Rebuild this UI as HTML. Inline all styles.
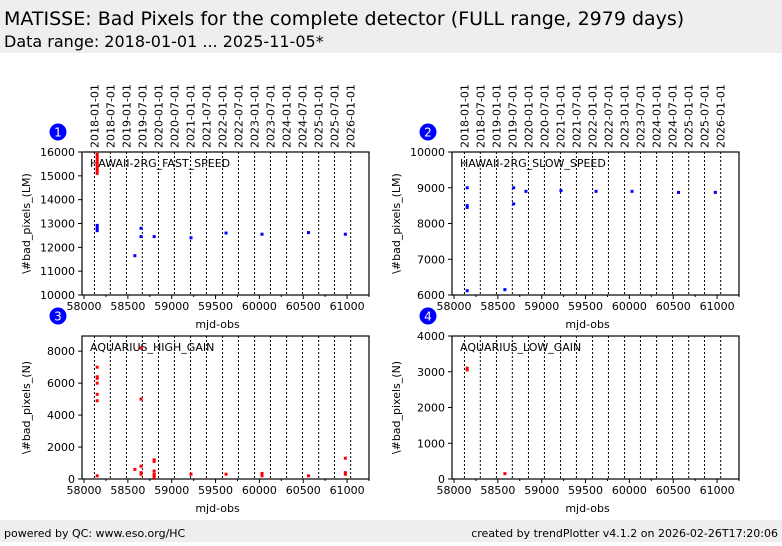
<!DOCTYPE html>
<html><head><meta charset="utf-8"><style>
body{margin:0;background:#fff;font-family:"DejaVu Sans","Liberation Sans",sans-serif}
svg text{font-family:"DejaVu Sans","Liberation Sans",sans-serif}
</style></head><body>
<svg id="c" width="782" height="542" xmlns="http://www.w3.org/2000/svg">
<rect x="0" y="0" width="782" height="53" fill="#eeeeee"/>
<text x="4" y="25" font-size="19" fill="#000">MATISSE: Bad Pixels for the complete detector (FULL range, 2979 days)</text>
<text x="4" y="47" font-size="16" fill="#000">Data range: 2018-01-01 ... 2025-11-05*</text>
<rect x="0" y="520" width="782" height="22" fill="#eeeeee"/>
<text x="4" y="537" font-size="11">powered by QC: www.eso.org/HC</text>
<text x="778" y="537" font-size="11" text-anchor="end">created by trendPlotter v4.1.2 on 2026-02-26T17:20:06</text>
</svg>
<script>
const dateLabels=["2018-01-01","2018-07-01","2019-01-01","2019-07-01","2020-01-01","2020-07-01","2021-01-01","2021-07-01","2022-01-01","2022-07-01","2023-01-01","2023-07-01","2024-01-01","2024-07-01","2025-01-01","2025-07-01","2026-01-01"];
const dateMjd=[58119,58300,58484,58665,58849,59031,59215,59396,59580,59761,59945,60126,60310,60492,60676,60857,61041];
const xTicks=[58000,58500,59000,59500,60000,60500,61000];
const p1Name="HAWAII-2RG_FAST_SPEED";
const p1RedX=[58150,58150,58150,58150,58150,58150,58150,58150,58150];
const p1RedY=[15100,15200,15300,15400,15500,15600,15700,15800,15900];
const p1BlueX=[58150,58150,58150,58150,58580,58650,58650,58800,59220,59620,60030,60560,60980];
const p1BlueY=[12700,12780,12850,12920,11650,12800,12450,12450,12400,12600,12550,12620,12550];
const p1Ticks=[10000,11000,12000,13000,14000,15000,16000];
const p2Name="HAWAII-2RG_SLOW_SPEED";
const p2BlueX=[58150,58150,58150,58150,58580,58680,58680,58820,59220,59620,60030,60560,60980];
const p2BlueY=[9000,8500,8450,6120,6150,9000,8550,8900,8920,8900,8900,8870,8870];
const p2Ticks=[6000,7000,8000,9000,10000];
const p3Name="AQUARIUS_HIGH_GAIN";
const p3RedX=[58150,58150,58150,58150,58150,58150,58150,58580,58650,58650,58650,58650,58650,58800,58800,58800,58800,58800,58800,59220,59620,60030,60030,60560,60980,60980,60980];
const p3RedY=[7000,6400,6300,6000,5300,4900,200,600,8200,5000,800,400,300,1200,1100,500,300,200,100,300,300,350,200,200,1300,400,300];
const p3Ticks=[0,2000,4000,6000,8000];
const p4Name="AQUARIUS_LOW_GAIN";
const p4RedX=[58150,58150,58580];
const p4RedY=[3100,3050,150];
const p4Ticks=[0,1000,2000,3000,4000];

const NS="http://www.w3.org/2000/svg";
const svg=document.getElementById('c');
function mk(t,a,p){const e=document.createElementNS(NS,t);for(const k in a)e.setAttribute(k,a[k]);(p||svg).appendChild(e);return e;}
function panel(num,x0,y0,ymin,ymax,ticks,name,series,showDates){
  const w=287,h=143,xmin=57977,xmax=61250;
  const g=mk('g',{});
  
  
  const X=v=>x0+(v-xmin)/(xmax-xmin)*w;
  const Y=v=>y0+h-(v-ymin)/(ymax-ymin)*h;
  dateMjd.forEach((m,i)=>{
    const gl=mk('line',{x1:X(m),x2:X(m),y1:y0,y2:y0+h,stroke:'#000','stroke-width':1,'stroke-dasharray':'2,2'},g);
    
    
    if(showDates){
      const t=mk('text',{x:X(m)+4,y:y0-4,'font-size':11,'font-family':'DejaVu Sans Mono,Liberation Mono,monospace',transform:`rotate(-90 ${X(m)+4} ${y0-4})`},g);
      t.textContent=dateLabels[i];
      
      
    }
  });
  const fr=mk('rect',{x:x0,y:y0,width:w,height:h,fill:'none',stroke:'#000','stroke-width':1.2},g);
  
  
  xTicks.forEach(v=>{
    mk('line',{x1:X(v),x2:X(v),y1:y0+h,y2:y0+h+4,stroke:'#000'},g);
    mk('line',{x1:X(v+250),x2:X(v+250),y1:y0+h,y2:y0+h+2,stroke:'#000'},g);
    const t=mk('text',{x:X(v),y:y0+h+15,'font-size':11,'text-anchor':'middle'},g);
    t.textContent=v;
    
    
  });
  ticks.forEach(v=>{
    mk('line',{x1:x0-4,x2:x0,y1:Y(v),y2:Y(v),stroke:'#000'},g);
    const t=mk('text',{x:x0-7,y:Y(v)+4,'font-size':11,'text-anchor':'end'},g);
    t.textContent=v;
    
    
  });
  const xt=mk('text',{x:x0+w/2-8,y:y0+h+33,'font-size':11,'text-anchor':'middle'},g);
  xt.textContent='mjd-obs';
  
  
  const yx=x0-52,yy=y0+h/2;
  const yt=mk('text',{x:yx,y:yy,'font-size':11,'text-anchor':'middle',transform:`rotate(-90 ${yx} ${yy})`},g);
  yt.textContent=num<=2?'\\#bad_pixels_(LM)':'\\#bad_pixels_(N)';
  
  
  const nt=mk('text',{x:x0+8,y:y0+15,'font-size':11},g);
  nt.textContent=name;
  
  
  series.forEach(s=>{
    s.xs.forEach((xv,i)=>{
      const r=mk('rect',{x:X(xv)-1.5,y:Y(s.ys[i])-1.5,width:3,height:3,fill:s.c},g);
      
      
    });
  });
  const cx=x0-24,cy=y0-20;
  const ci=mk('circle',{cx:cx,cy:cy,r:8.5,fill:'#0000ff'},g);
  
  
  const ct=mk('text',{x:cx,y:cy+4.5,'font-size':12,fill:'#fff','text-anchor':'middle'},g);
  ct.textContent=num;
  
  
}
panel(1,82,152,10000,16000,p1Ticks,p1Name,[{xs:p1BlueX,ys:p1BlueY,c:'#0000ff'},{xs:p1RedX,ys:p1RedY,c:'#ff0000'}],true);
panel(2,452,152,6000,10000,p2Ticks,p2Name,[{xs:p2BlueX,ys:p2BlueY,c:'#0000ff'}],true);
panel(3,82,336,0,8950,p3Ticks,p3Name,[{xs:p3RedX,ys:p3RedY,c:'#ff0000'}],false);
panel(4,452,336,0,4000,p4Ticks,p4Name,[{xs:p4RedX,ys:p4RedY,c:'#ff0000'}],false);
</script>
</body></html>
